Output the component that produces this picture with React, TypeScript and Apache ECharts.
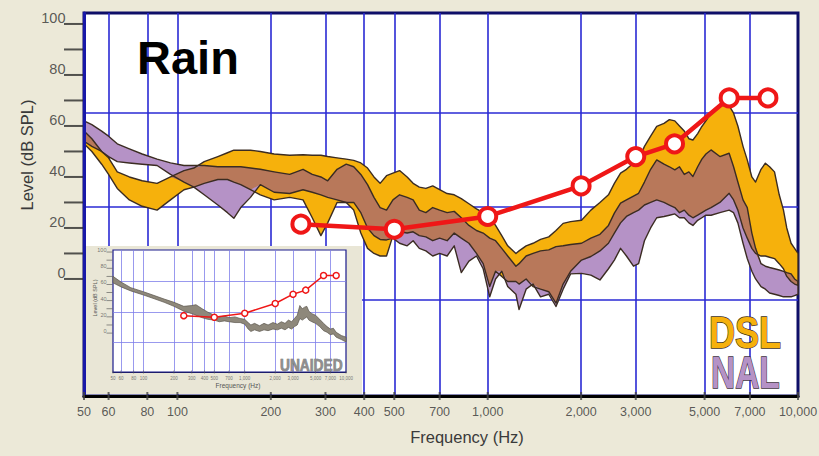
import React, { useEffect, useRef } from "react";
import * as echarts from "echarts";

// ---- Aided response bands (main plot) ----
const bandFreqs = [
  50, 53, 57, 60, 64, 70, 77, 86, 95, 105, 113, 122, 135, 145, 152, 160, 172, 185, 205, 230,
  254, 272, 290, 305, 327, 350, 370, 390, 410, 430, 450, 472, 495, 520, 550, 575, 602, 632, 665, 700,
  740, 780, 822, 870, 920, 967, 1015, 1060, 1110, 1160, 1233, 1262, 1330, 1400, 1480, 1573, 1660, 1750, 1850, 2006,
  2150, 2300, 2450, 2560, 2680, 2800, 2950, 3064, 3200, 3350, 3505, 3700, 3850, 4009, 4150, 4300, 4450, 4585, 4750, 4900,
  5050, 5245, 5600, 5999, 6200, 6400, 6650, 6862, 7100, 7300, 7600, 7849, 8100, 8400, 8700, 8978, 9200, 9500, 9750, 10000,
];
const dslHigh = [
  58, 55, 50, 47.5, 42, 40, 38.5, 37.5, 40, 42.5, 43.5, 46, 48, 49.5, 50.5, 50.5, 50.5, 50, 49, 48.5,
  48.7, 48.5, 48.5, 48, 47.5, 47, 46.5, 45.5, 43.5, 40, 37.5, 40.5, 41.5, 42.5, 40, 37.5, 36, 35.5, 36.5, 35,
  33.5, 33, 31.5, 29.5, 27.5, 26, 24, 21, 17, 13, 10, 11, 13, 14, 15.5, 16.5, 19, 21.8, 22.5, 23,
  27, 30, 33, 37.5, 41.5, 43, 45.5, 46.7, 52, 56, 59.8, 61, 62.5, 62, 60, 58, 55, 54.5, 57, 59.8,
  62, 65, 68, 68, 65, 60, 52, 46.7, 40, 38, 43, 45.4, 44, 42, 33, 27, 20, 14, 12, 10,
];
const dslLow = [
  53, 50, 45, 41, 35.5, 31, 28.5, 27, 31, 35, 36, 37.5, 39, 39, 38, 37, 35, 33, 31, 32,
  31, 24, 17, 22, 30, 30, 27, 18, 12, 10, 9, 9, 17, 18.5, 18, 18.5, 17, 16.5, 15, 16,
  15, 18, 16, 14, 10, 6, -3, 3, 1, -1, -1, -2, 0, -3, -4, -5, -9.5, -2, 3, 7.4,
  8.8, 11, 14, 18, 22, 24.5, 26, 27, 29, 30, 31, 30, 29, 28, 26, 27, 25, 24, 25, 26,
  27, 28, 30, 33.6, 31, 27, 20, 16, 12, 10, 9, 9, 8.5, 8, 6, 4, 1, -1, -2, -2.5,
];
const nalHigh = [
  62, 60.5, 58, 56, 53, 51, 49, 47, 45.5, 44.5, 44.5, 44.5, 44, 44, 44, 44, 43.5, 43, 42, 41,
  43, 41, 40, 38.5, 43, 45, 44, 41, 37, 32, 28, 27, 31, 33, 32, 31, 27, 26, 28, 27,
  26, 26.5, 24, 21, 19, 18, 16, 15, 12, 9, 5, 6, 9, 10, 11, 11.4, 12.7, 13, 13.5, 14,
  16, 17.5, 21, 25.8, 29.7, 31, 32.5, 33.6, 38, 43, 46.7, 45, 44, 42.8, 44, 41, 42, 40.2, 44, 47,
  49, 50.6, 48, 49.3, 44, 38, 31, 28, 18, 12, 6, 5, 4.5, 4, 3.5, 3, 2.5, 2, 0, -1,
];
const nalLow = [
  54, 52, 50, 48, 46, 45.5, 45, 44.5, 41, 38, 36, 33, 29, 26, 23.8, 28, 32, 37, 34, 33.5,
  35, 34, 33, 32, 31, 30, 30, 26, 20, 17, 15.5, 15.3, 16, 14, 13, 15, 12, 11, 9, 10,
  9, 13, 2.5, 7, 9, 4, -7, 0, 3, -3, -6, -12, -4, -2, -7, -6, -10.8, -4, 2, 2.2,
  1.5, -0.4, 4, 7.4, 12, 9, 5, 6, 15, 20, 24, 24.5, 25, 25.5, 24, 24, 22, 21, 23, 24,
  25, 25, 26, 27, 26, 22, 14, 8, 3, 0, -3, -4, -5.5, -6, -6.5, -7, -7, -7, -6.5, -6,
];

// ---- Prescription target (red) ----
const targetFreqs = [250, 500, 1000, 2000, 3000, 4000, 6000, 8000];
const targetLevels = [21.5, 19.5, 24.5, 36.5, 48, 53, 71, 71];

// ---- Unaided band (inset) ----
const unaidedFreqs = [
  50, 60, 75, 100, 130, 160, 200, 250, 300, 330, 380, 430, 500, 560, 630, 700, 800, 900, 1000, 1080,
  1150, 1250, 1400, 1550, 1700, 1900, 2100, 2300, 2500, 2700, 2900, 3100, 3300, 3500, 3700, 3900, 4100, 4300, 4600, 5000,
  5500, 6000, 6500, 7000, 7500, 8000, 9000, 10000,
];
const unaidedLow = [
  62, 57, 52, 47, 42, 38, 33, 27, 24, 22, 19, 17, 16, 14, 15, 14, 13, 13, 11, 5,
  2, 4, 2, 4, 3, 5, 4, 6, 4, 7, 5, 8, 10, 18, 16, 18, 20, 16, 14, 12,
  8, 3, 1, -2, -1, -5, -8, -11,
];
const unaidedHigh = [
  70, 63, 56, 51, 46, 42, 38, 33, 34, 35, 30, 26, 22, 20, 21, 19, 20, 18, 17, 13,
  10, 12, 9, 12, 10, 13, 11, 14, 12, 16, 14, 18, 22, 34, 30, 32, 33, 27, 24, 22,
  17, 12, 8, 5, 6, 1, -3, -5,
];

// ---- Axis ticks ----
const freqTicks = [50, 60, 80, 100, 200, 300, 400, 500, 700, 1000, 2000, 3000, 5000, 7000, 10000];
const freqGridLines = [60, 80, 100, 200, 300, 400, 500, 700, 1000, 2000, 3000, 5000, 7000];
const levelTicks = [0, 10, 20, 30, 40, 50, 60, 70, 80, 90, 100];
const levelLabels = [0, 20, 40, 60, 80, 100];
const mainGuideLevels = [65, 28.2, -8.2];
const insetGuideLevels = [64, 26, -11];

const MAIN_MIN = -45.9;
const MAIN_MAX = 104.3;
const INSET_MIN = -48;
const INSET_MAX = 102.5;

const FONT = "'Liberation Sans', Arial, sans-serif";
const ORANGE = "#f6b10c";
const PURPLE = "#b592c6";
const BROWN = "#b8785a";
const OUTLINE = "#3b2c22";
const RED = "#ef1717";
const GRID_BLUE = "#2a2ad4";

const fmtFreq = (f: number) => (f >= 1000 ? f.toLocaleString("en-US") : String(f));

function bandRenderer(
  freqs: number[],
  bands: { hi: number[]; lo: number[]; fill: string }[],
  overlapFill: string | null,
  stroke: string,
  lineWidth: number
) {
  return (_params: any, api: any) => {
    const pts = (hi: number[], lo: number[]) => {
      const top = freqs.map((f, i) => api.coord([f, hi[i]]));
      const bot = freqs.map((f, i) => api.coord([f, lo[i]])).reverse();
      return top.concat(bot);
    };
    const polys = bands.map((b) => pts(b.hi, b.lo));
    const children: any[] = polys.map((p, k) => ({
      type: "polygon",
      shape: { points: p },
      style: { fill: bands[k].fill },
    }));
    if (overlapFill && bands.length === 2) {
      const [a, b] = bands;
      const oh = freqs.map((_, i) => Math.min(a.hi[i], b.hi[i]));
      const ol = freqs.map((_, i) => Math.min(Math.max(a.lo[i], b.lo[i]), oh[i]));
      children.push({ type: "polygon", shape: { points: pts(oh, ol) }, style: { fill: overlapFill } });
    }
    polys.forEach((p) =>
      children.push({
        type: "polygon",
        shape: { points: p },
        style: { fill: "none", stroke, lineWidth, lineJoin: "round" },
      })
    );
    return { type: "group", children };
  };
}

function guideLines(xs: number[], ys: number[], color: string, width: number, z: number) {
  return {
    silent: true, z, symbol: ["none", "none"], label: { show: false },
    lineStyle: { color, width, type: "solid" },
    emphasis: { disabled: true },
    data: [...xs.map((f) => ({ xAxis: f })), ...ys.map((v) => ({ yAxis: v }))],
  };
}

function buildOption(): any {
  return {
    animation: false,
    backgroundColor: "#ece9d8",
    grid: [
      {
        left: 84, top: 13, width: 714, height: 383,
        show: true, backgroundColor: "#ffffff", borderColor: "#0e0e68", borderWidth: 3, z: 0,
      },
      {
        left: 113, top: 250, width: 233, height: 122,
        show: true, backgroundColor: "#ffffff", borderColor: "#1c1c8c", borderWidth: 1.2, z: 5,
      },
    ],
    xAxis: [
      {
        type: "log", logBase: 10, min: 50, max: 10000, gridIndex: 0, z: 5,
        axisLine: { show: true, onZero: false, lineStyle: { color: "#000000", width: 3 } },
        axisTick: { show: false }, axisLabel: { show: false }, splitLine: { show: false },
      },
      {
        type: "log", logBase: 10, min: 50, max: 10000, gridIndex: 1, z: 6,
        axisLine: { show: true, onZero: false, lineStyle: { color: "#1c1c6c", width: 1.2 } },
        axisTick: { show: false }, axisLabel: { show: false }, splitLine: { show: false },
      },
    ],
    yAxis: [
      {
        type: "value", min: MAIN_MIN, max: MAIN_MAX, gridIndex: 0, z: 5,
        axisLine: { show: true, onZero: false, lineStyle: { color: "#1818a8", width: 3 } },
        axisTick: { show: false }, axisLabel: { show: false }, splitLine: { show: false },
      },
      {
        type: "value", min: INSET_MIN, max: INSET_MAX, gridIndex: 1, z: 6,
        axisLine: { show: false, onZero: false }, axisTick: { show: false }, axisLabel: { show: false }, splitLine: { show: false },
      },
    ],
    graphic: [
      // panel behind the unaided inset
      { type: "rect", z: 2, silent: true, shape: { x: 86, y: 246, width: 276, height: 148 }, style: { fill: "#e9e6d6" } },
      {
        type: "text", z: 10, x: 137, y: 57, silent: true,
        style: { text: "Rain", font: `bold 47px ${FONT}`, fill: "#000", align: "left", verticalAlign: "middle" },
      },
      {
        type: "text", z: 10, x: 27, y: 155, rotation: Math.PI / 2, silent: true,
        style: { text: "Level (dB SPL)", font: `16.5px ${FONT}`, fill: "#3a3a3a", align: "center", verticalAlign: "middle" },
      },
      {
        type: "text", z: 10, x: 467, y: 437, silent: true,
        style: { text: "Frequency (Hz)", font: `16.5px ${FONT}`, fill: "#3a3a3a", align: "center", verticalAlign: "middle" },
      },
      {
        type: "text", z: 10, x: 709, y: 333, scaleX: 0.82, silent: true,
        style: { text: "DSL", font: `bold 44px ${FONT}`, fill: ORANGE, stroke: "#3d3020", lineWidth: 1.4, align: "left", verticalAlign: "middle" },
      },
      {
        type: "text", z: 10, x: 711, y: 373, scaleX: 0.76, silent: true,
        style: { text: "NAL", font: `bold 44px ${FONT}`, fill: PURPLE, stroke: "#3d3040", lineWidth: 1.4, align: "left", verticalAlign: "middle" },
      },
      // inset texts
      {
        type: "text", z: 10, x: 280, y: 365, scaleX: 0.86, silent: true,
        style: { text: "UNAIDED", font: `bold 16px ${FONT}`, fill: "#8e8e8e", stroke: "#5f5f5f", lineWidth: 0.6, align: "left", verticalAlign: "middle" },
      },
      {
        type: "text", z: 10, x: 238, y: 385, silent: true,
        style: { text: "Frequency (Hz)", font: `6.5px ${FONT}`, fill: "#555", align: "center", verticalAlign: "middle" },
      },
      {
        type: "text", z: 10, x: 95, y: 298, rotation: Math.PI / 2, silent: true,
        style: { text: "Level (dB SPL)", font: `5.5px ${FONT}`, fill: "#555", align: "center", verticalAlign: "middle" },
      },
    ],
    series: [
      // main plot guide lines
      {
        type: "line", xAxisIndex: 0, yAxisIndex: 0, data: [], z: 1, silent: true,
        markLine: guideLines(freqGridLines, mainGuideLevels, GRID_BLUE, 1.6, 1),
      },
      // DSL / NAL bands
      {
        type: "custom", xAxisIndex: 0, yAxisIndex: 0, z: 3, silent: true,
        data: [[50, 0]],
        renderItem: bandRenderer(
          bandFreqs,
          [
            { hi: dslHigh, lo: dslLow, fill: ORANGE },
            { hi: nalHigh, lo: nalLow, fill: PURPLE },
          ],
          BROWN, OUTLINE, 1.4
        ),
      },
      // target line
      {
        type: "line", xAxisIndex: 0, yAxisIndex: 0, z: 4, silent: true,
        data: targetFreqs.map((f, i) => [f, targetLevels[i]]),
        lineStyle: { color: RED, width: 4.5 },
        symbol: "circle", symbolSize: 17,
        itemStyle: { color: "#ffffff", borderColor: RED, borderWidth: 4 },
      },
      // y ticks
      {
        type: "scatter", xAxisIndex: 0, yAxisIndex: 0, z: 4, silent: true, clip: false,
        data: levelTicks.map((v) => [50, v]),
        symbol: "rect", symbolSize: [19, 2], symbolOffset: [-10.5, 0],
        itemStyle: { color: "#2a2a2a" },
      },
      // y labels
      {
        type: "scatter", xAxisIndex: 0, yAxisIndex: 0, z: 4, silent: true, clip: false,
        data: levelLabels.map((v) => [50, v]),
        symbol: "rect", symbolSize: 1, itemStyle: { color: "rgba(0,0,0,0)" },
        label: {
          show: true, position: "left", distance: 18, offset: [0, -6],
          formatter: (p: any) => String(p.value[1]),
          fontFamily: FONT, fontSize: 14.5, color: "#333",
        },
      },
      // x ticks + labels
      {
        type: "scatter", xAxisIndex: 0, yAxisIndex: 0, z: 6, silent: true, clip: false,
        data: freqTicks.map((f) => [f, MAIN_MIN]),
        symbol: "rect", symbolSize: [2, 8], itemStyle: { color: "#444" },
        label: {
          show: true, position: "bottom", distance: 5,
          formatter: (p: any) => fmtFreq(p.value[0]),
          fontFamily: FONT, fontSize: 12.5, color: "#333",
        },
      },

      // ---- inset ----
      {
        type: "line", xAxisIndex: 1, yAxisIndex: 1, data: [], z: 6, silent: true,
        markLine: guideLines(freqGridLines, insetGuideLevels, "#7f7fea", 0.8, 6),
      },
      {
        type: "custom", xAxisIndex: 1, yAxisIndex: 1, z: 7, silent: true,
        data: [[50, 0]],
        renderItem: bandRenderer(unaidedFreqs, [{ hi: unaidedHigh, lo: unaidedLow, fill: "#8e887b" }], null, "#5a554c", 0.7),
      },
      {
        type: "line", xAxisIndex: 1, yAxisIndex: 1, z: 8, silent: true,
        data: targetFreqs.map((f, i) => [f, targetLevels[i]]),
        lineStyle: { color: RED, width: 1.5 },
        symbol: "circle", symbolSize: 6,
        itemStyle: { color: "#ffffff", borderColor: RED, borderWidth: 1.5 },
      },
      {
        type: "scatter", xAxisIndex: 1, yAxisIndex: 1, z: 8, silent: true, clip: false,
        data: levelTicks.map((v) => [50, v]),
        symbol: "rect", symbolSize: [6, 0.8], symbolOffset: [-3.5, 0],
        itemStyle: { color: "#555" },
      },
      {
        type: "scatter", xAxisIndex: 1, yAxisIndex: 1, z: 8, silent: true, clip: false,
        data: levelLabels.map((v) => [50, v]),
        symbol: "rect", symbolSize: 1, itemStyle: { color: "rgba(0,0,0,0)" },
        label: {
          show: true, position: "left", distance: 6, offset: [0, -2],
          formatter: (p: any) => String(p.value[1]),
          fontFamily: FONT, fontSize: 5.5, color: "#555",
        },
      },
      {
        type: "scatter", xAxisIndex: 1, yAxisIndex: 1, z: 8, silent: true, clip: false,
        data: freqTicks.map((f) => [f, INSET_MIN]),
        symbol: "rect", symbolSize: [0.8, 3], itemStyle: { color: "#555" },
        label: {
          show: true, position: "bottom", distance: 2,
          formatter: (p: any) => fmtFreq(p.value[0]),
          fontFamily: FONT, fontSize: 4.5, color: "#555",
        },
      },
    ],
  };
}

export default function App() {
  const ref = useRef<HTMLDivElement>(null);
  useEffect(() => {
    if (!ref.current) return;
    const chart = echarts.init(ref.current, undefined, { renderer: "svg" });
    chart.setOption(buildOption());
    return () => chart.dispose();
  }, []);
  return (
    <div
      ref={ref}
      style={{ position: "fixed", left: 0, top: 0, width: 819, height: 456 }}
    />
  );
}
